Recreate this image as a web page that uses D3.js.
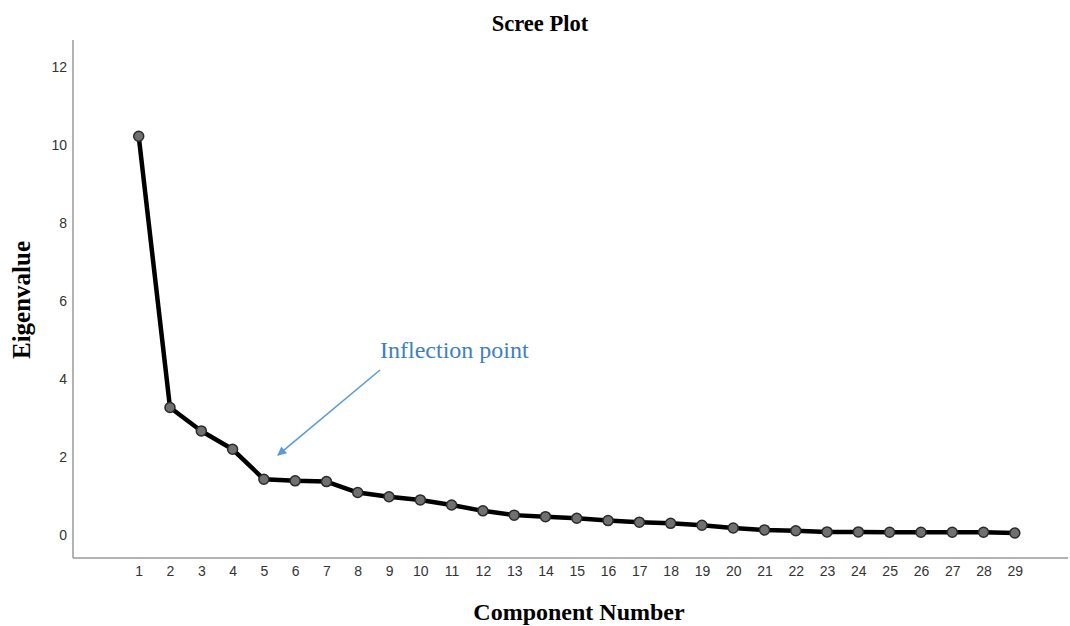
<!DOCTYPE html>
<html>
<head>
<meta charset="utf-8">
<script src="https://cdn.jsdelivr.net/npm/d3@7/dist/d3.min.js"></script>
<style>
  html, body { margin: 0; padding: 0; background: #fff; }
  svg { display: block; }
</style>
</head>
<body>
<svg id="chart" width="1070" height="626"></svg>
<script>
const components = d3.range(1, 30);
const eigenvalues = [10.23, 3.27, 2.67, 2.20, 1.43, 1.39, 1.37, 1.09, 0.98, 0.90,
                     0.77, 0.62, 0.51, 0.47, 0.43, 0.37, 0.33, 0.30, 0.25, 0.18,
                     0.13, 0.11, 0.08, 0.08, 0.07, 0.07, 0.07, 0.07, 0.05];
const yTicks = [0, 2, 4, 6, 8, 10, 12];
const chartTitle = "Scree Plot";
const xTitle = "Component Number";
const yTitle = "Eigenvalue";
const annotationText = "Inflection point";

const svg = d3.select("#chart");
const x = d3.scaleLinear().domain([-1.1, 30.7]).range([73, 1068]);
const y = d3.scaleLinear().domain([-0.59, 12.7]).range([558, 40]);

// axes lines
svg.append("line").attr("x1", 73).attr("x2", 73).attr("y1", y(12.7)).attr("y2", y(-0.59))
  .attr("stroke", "#9a9a9a").attr("stroke-width", 1.5);
svg.append("line").attr("x1", 73).attr("x2", 1068).attr("y1", y(-0.59)).attr("y2", y(-0.59))
  .attr("stroke", "#9a9a9a").attr("stroke-width", 1.5);

// y axis tick labels
const yAxis = d3.axisLeft(y).tickValues(yTicks).tickSize(0).tickPadding(0).tickFormat(d3.format("d"));
const gy = svg.append("g").attr("transform", "translate(67,0)").call(yAxis);
gy.select(".domain").remove();
gy.selectAll("text").attr("font-family", "Liberation Sans, Arial, sans-serif")
  .attr("font-size", 14).attr("fill", "#333");

// x axis tick labels
const xAxis = d3.axisBottom(x).tickValues(components).tickSize(0).tickPadding(0).tickFormat(d3.format("d"));
const gx = svg.append("g").attr("transform", "translate(0,566)").call(xAxis);
gx.select(".domain").remove();
gx.selectAll("text").attr("font-family", "Liberation Sans, Arial, sans-serif")
  .attr("font-size", 14).attr("fill", "#333");

// line
const data = components.map((c, i) => ({c, v: eigenvalues[i]}));
svg.append("path").datum(data)
  .attr("fill", "none").attr("stroke", "#000").attr("stroke-width", 4.5)
  .attr("stroke-linejoin", "round")
  .attr("d", d3.line().x(d => x(d.c)).y(d => y(d.v)));

svg.selectAll("circle.pt").data(data).enter().append("circle")
  .attr("class", "pt")
  .attr("cx", d => x(d.c)).attr("cy", d => y(d.v)).attr("r", 5)
  .attr("fill", "#707070").attr("stroke", "#2a2a2a").attr("stroke-width", 1.5);

// titles
svg.append("text").attr("x", 540).attr("y", 31).attr("text-anchor", "middle")
  .attr("font-family", "Liberation Serif, Times New Roman, serif").attr("font-weight", "bold")
  .attr("font-size", 22.5).text(chartTitle);
svg.append("text").attr("x", 579).attr("y", 620).attr("text-anchor", "middle")
  .attr("font-family", "Liberation Serif, Times New Roman, serif").attr("font-weight", "bold")
  .attr("font-size", 24).text(xTitle);
svg.append("text").attr("transform", "translate(30,300) rotate(-90)").attr("text-anchor", "middle")
  .attr("font-family", "Liberation Serif, Times New Roman, serif").attr("font-weight", "bold")
  .attr("font-size", 25).text(yTitle);

// annotation
const defs = svg.append("defs");
defs.append("marker").attr("id", "arr").attr("viewBox", "0 0 10 10").attr("refX", 9).attr("refY", 5)
  .attr("markerWidth", 11).attr("markerHeight", 9).attr("markerUnits", "userSpaceOnUse")
  .attr("orient", "auto")
  .append("path").attr("d", "M0,0 L10,5 L0,10 Z").attr("fill", "#5b9bd5");
const ax = x(5.45), ay = y(2.05);
svg.append("line").attr("x1", 380).attr("y1", 370).attr("x2", ax).attr("y2", ay)
  .attr("stroke", "#5b9bd5").attr("stroke-width", 1.6).attr("marker-end", "url(#arr)");
svg.append("text").attr("x", 380).attr("y", 358)
  .attr("font-family", "Liberation Serif, Times New Roman, serif")
  .attr("font-size", 24).attr("fill", "#3f7fc0").text(annotationText);
</script>
</body>
</html>
